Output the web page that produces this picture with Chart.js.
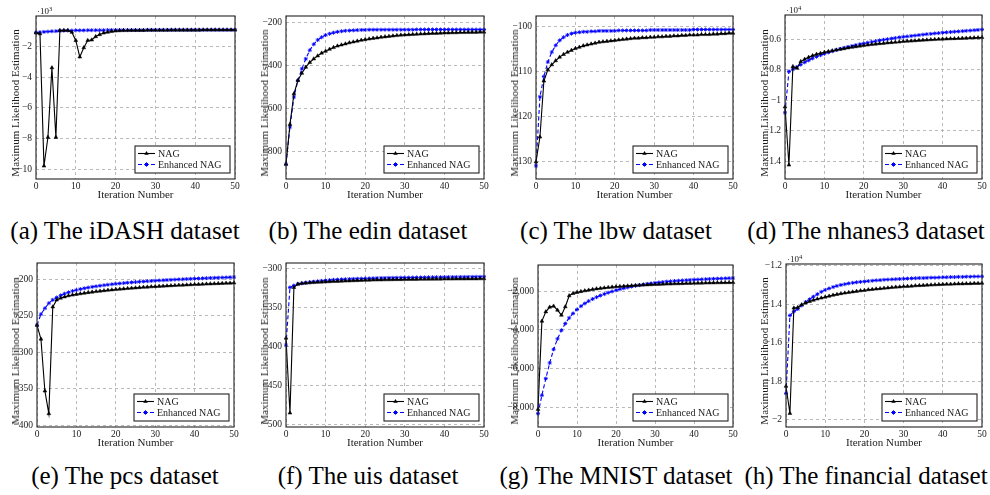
<!DOCTYPE html>
<html>
<head>
<meta charset="utf-8">
<script src="https://cdn.jsdelivr.net/npm/chart.js@4.4.1/dist/chart.umd.min.js"></script>
<style>
  body { margin: 0; background: #fff; }
  #fig { position: relative; width: 990px; height: 495px; overflow: hidden; font-family: 'Liberation Serif', serif; color: #1a1a1a; }
  canvas { position: absolute; }
  .ytitle { position: absolute; transform: translate(-50%, -50%) rotate(-90deg); white-space: nowrap; font-size: 11px; }
  .expo { position: absolute; font-size: 9px; line-height: 10px; }
  .expo sup { font-size: 6.5px; vertical-align: 3px; }
  .caption { position: absolute; width: 260px; text-align: center; font-size: 25px; line-height: 26px; color: #000; white-space: nowrap; }
</style>
</head>
<body>
<div id="fig"></div>
<script>
// iteration numbers (x axis)
const iterations = [0,1,2,3,4,5,6,7,8,9,10,11,12,13,14,15,16,17,18,19,20,21,22,23,24,25,
  26,27,28,29,30,31,32,33,34,35,36,37,38,39,40,41,42,43,44,45,46,47,48,49,50];
const xTicks = [0, 10, 20, 30, 40, 50];

// (a) iDASH, values in 10^3
const nagIdash = [-1.14, -1.2, -9.76, -7.9, -3.4, -7.9, -0.99, -0.98, -0.98, -1.1,
  -1.63, -2.7, -2.1, -1.63, -1.6, -1.38, -1.25, -1.15, -1.1, -1.05,
  -1.02, -1.0, -0.99, -0.99, -0.98, -0.98, -0.98, -0.98, -0.97, -0.97,
  -0.97, -0.97, -0.97, -0.97, -0.96, -0.96, -0.96, -0.96, -0.96, -0.96,
  -0.96, -0.96, -0.95, -0.95, -0.95, -0.95, -0.95, -0.95, -0.95, -0.95, -0.95];
const enhIdash = [-1.12, -1.1, -1.08, -1.06, -1.04, -1.03, -1.01, -1.0, -0.99, -0.99,
  -0.98, -0.98, -0.98, -0.97, -0.97, -0.97, -0.97, -0.97, -0.96, -0.96,
  -0.96, -0.96, -0.96, -0.96, -0.96, -0.96, -0.96, -0.96, -0.95, -0.95,
  -0.95, -0.95, -0.95, -0.95, -0.95, -0.95, -0.95, -0.95, -0.95, -0.95,
  -0.95, -0.95, -0.95, -0.95, -0.95, -0.95, -0.95, -0.95, -0.95, -0.95, -0.95];
const ticksIdash = [-10, -8, -6, -4, -2];

// (b) edin
const nagEdin = [-861, -675, -532, -470, -436, -408, -386, -369, -355, -342,
  -333, -324, -316, -309, -304, -299, -294, -290, -286, -282,
  -279, -276, -273, -271, -268, -266, -264, -262, -260, -258,
  -257, -256, -255, -254, -253, -252, -251, -250, -250, -249,
  -248, -248, -247, -247, -246, -246, -245, -245, -245, -244, -244];
const enhEdin = [-861, -687, -547, -470, -416, -369, -329, -301, -281, -268,
  -258, -252, -247, -243, -240, -238, -237, -236, -235, -234,
  -234, -233, -233, -233, -233, -233, -233, -233, -233, -233,
  -233, -233, -233, -232, -232, -232, -232, -232, -232, -232,
  -232, -232, -232, -232, -232, -232, -232, -232, -232, -232, -232];
const ticksEdin = [-800, -600, -400, -200];

// (c) lbw
const nagLbw = [-130, -124.5, -112.1, -109.6, -108.5, -107.6, -106.8, -106.2, -105.7, -105.3,
  -104.9, -104.6, -104.3, -104.1, -103.9, -103.7, -103.5, -103.4, -103.3, -103.2,
  -103.1, -103.0, -102.9, -102.8, -102.7, -102.6, -102.6, -102.5, -102.5, -102.4,
  -102.4, -102.3, -102.3, -102.2, -102.2, -102.1, -102.1, -102.0, -102.0, -101.9,
  -101.9, -101.9, -101.8, -101.8, -101.8, -101.7, -101.7, -101.6, -101.6, -101.5, -101.5];
const enhLbw = [-130.9, -115.6, -111.1, -107.9, -105.7, -104.2, -103.1, -102.4, -101.9, -101.6,
  -101.4, -101.3, -101.2, -101.2, -101.1, -101.1, -101.0, -101.0, -101.0, -101.0,
  -101.0, -100.9, -100.9, -100.9, -100.9, -100.9, -100.9, -100.9, -100.9, -100.8,
  -100.8, -100.8, -100.8, -100.8, -100.8, -100.8, -100.8, -100.8, -100.8, -100.8,
  -100.7, -100.7, -100.7, -100.7, -100.7, -100.7, -100.7, -100.7, -100.7, -100.7, -100.7];
const ticksLbw = [-130, -120, -110, -100];

// (d) nhanes3, values in 10^4
const nagNhanes = [-1.044, -1.426, -0.779, -0.789, -0.746, -0.731, -0.718, -0.707, -0.698, -0.692,
  -0.685, -0.68, -0.675, -0.67, -0.665, -0.661, -0.656, -0.652, -0.648, -0.644,
  -0.64, -0.637, -0.634, -0.631, -0.628, -0.626, -0.623, -0.621, -0.619, -0.617,
  -0.614, -0.612, -0.611, -0.609, -0.607, -0.605, -0.604, -0.602, -0.601, -0.599,
  -0.598, -0.597, -0.596, -0.595, -0.594, -0.593, -0.592, -0.591, -0.59, -0.589, -0.588];
const enhNhanes = [-1.083, -0.811, -0.797, -0.782, -0.766, -0.751, -0.738, -0.725, -0.714, -0.704,
  -0.695, -0.686, -0.678, -0.67, -0.663, -0.656, -0.65, -0.644, -0.638, -0.632,
  -0.627, -0.622, -0.617, -0.612, -0.607, -0.603, -0.599, -0.595, -0.591, -0.587,
  -0.584, -0.581, -0.578, -0.575, -0.572, -0.569, -0.566, -0.564, -0.561, -0.559,
  -0.556, -0.554, -0.552, -0.55, -0.548, -0.546, -0.544, -0.542, -0.54, -0.538, -0.536];
const ticksNhanes = [-1.4, -1.2, -1, -0.8, -0.6];

// (e) pcs
const nagPcs = [-263, -282, -353, -384, -238, -228.5, -226, -224.3, -222.8, -221.8,
  -220.8, -220, -219.2, -218.4, -217.7, -217, -216.4, -215.8, -215.2, -214.7,
  -214.2, -213.7, -213.3, -212.8, -212.4, -212, -211.6, -211.2, -210.9, -210.5,
  -210.2, -209.9, -209.6, -209.3, -209, -208.7, -208.4, -208.2, -207.9, -207.7,
  -207.4, -207.2, -207, -206.7, -206.5, -206.3, -206.1, -205.9, -205.7, -205.5, -205.3];
const enhPcs = [-263, -248, -240, -233, -228.4, -225.2, -222.3, -220, -218.1, -216.4,
  -215, -213.7, -212.6, -211.6, -210.7, -209.9, -209.1, -208.4, -207.7, -207.1,
  -206.5, -206, -205.5, -205, -204.5, -204.1, -203.7, -203.3, -202.9, -202.6,
  -202.2, -201.9, -201.6, -201.3, -201, -200.7, -200.4, -200.2, -199.9, -199.7,
  -199.4, -199.2, -199, -198.7, -198.5, -198.3, -198.1, -197.9, -197.7, -197.5, -197.3];
const ticksPcs = [-400, -350, -300, -250, -200];

// (f) uis
const nagUis = [-389, -485, -324, -319.7, -318.9, -318.4, -318, -317.7, -317.4, -317.1,
  -316.8, -316.6, -316.4, -316.2, -316, -315.8, -315.6, -315.4, -315.2, -315,
  -314.8, -314.7, -314.5, -314.4, -314.3, -314.2, -314.1, -314, -313.9, -313.9,
  -313.8, -313.7, -313.7, -313.6, -313.5, -313.5, -313.4, -313.4, -313.3, -313.3,
  -313.2, -313.2, -313.2, -313.1, -313.1, -313.1, -313, -313, -313, -312.9, -312.9];
const enhUis = [-398, -324, -321.5, -319.7, -318.7, -318, -317.3, -316.7, -316.1, -315.6,
  -315.1, -314.7, -314.3, -314, -313.7, -313.5, -313.3, -313.1, -312.9, -312.7,
  -312.5, -312.4, -312.3, -312.1, -312, -311.9, -311.8, -311.7, -311.6, -311.5,
  -311.5, -311.4, -311.3, -311.2, -311.2, -311.1, -311, -311, -310.9, -310.9,
  -310.8, -310.8, -310.7, -310.7, -310.6, -310.6, -310.5, -310.5, -310.4, -310.4, -310.3];
const ticksUis = [-500, -450, -400, -350, -300];

// (g) MNIST
const nagMnist = [-8086, -3548, -3067, -2826, -2774, -2980, -3238, -2808, -2241, -2120,
  -2069, -2025, -1985, -1950, -1915, -1885, -1860, -1835, -1815, -1795,
  -1778, -1762, -1748, -1735, -1722, -1710, -1699, -1689, -1679, -1670,
  -1661, -1653, -1645, -1638, -1631, -1625, -1619, -1613, -1607, -1602,
  -1597, -1592, -1588, -1584, -1580, -1576, -1572, -1568, -1565, -1561, -1558];
const enhMnist = [-8310, -7364, -6504, -5700, -5000, -4460, -4020, -3670, -3380, -3150,
  -2950, -2780, -2640, -2515, -2410, -2315, -2230, -2155, -2085, -2020,
  -1960, -1905, -1855, -1810, -1768, -1730, -1695, -1662, -1632, -1605,
  -1580, -1557, -1536, -1517, -1499, -1483, -1468, -1454, -1441, -1429,
  -1418, -1407, -1397, -1388, -1379, -1370, -1362, -1354, -1346, -1339, -1332];
const ticksMnist = [-8000, -6000, -4000, -2000];

// (h) financial, values in 10^4
const nagFin = [-1.826, -1.967, -1.419, -1.416, -1.402, -1.393, -1.385, -1.378, -1.372, -1.367,
  -1.362, -1.357, -1.352, -1.348, -1.344, -1.341, -1.338, -1.335, -1.332, -1.329,
  -1.327, -1.324, -1.322, -1.32, -1.318, -1.316, -1.314, -1.312, -1.31, -1.309,
  -1.307, -1.306, -1.305, -1.303, -1.302, -1.301, -1.3, -1.299, -1.298, -1.297,
  -1.296, -1.295, -1.295, -1.294, -1.293, -1.293, -1.292, -1.292, -1.291, -1.291, -1.29];
const enhFin = [-1.863, -1.458, -1.437, -1.424, -1.405, -1.388, -1.374, -1.36, -1.347, -1.335,
  -1.325, -1.317, -1.31, -1.304, -1.299, -1.295, -1.291, -1.288, -1.285, -1.283,
  -1.281, -1.279, -1.277, -1.275, -1.274, -1.272, -1.271, -1.27, -1.269, -1.268,
  -1.267, -1.266, -1.265, -1.264, -1.263, -1.263, -1.262, -1.261, -1.261, -1.26,
  -1.259, -1.259, -1.258, -1.258, -1.257, -1.257, -1.256, -1.256, -1.255, -1.255, -1.254];
const ticksFin = [-2, -1.8, -1.6, -1.4, -1.2];

const seriesNames = ['NAG', 'Enhanced NAG'];
const captions = ['(a) The iDASH dataset', '(b) The edin dataset', '(c) The lbw dataset', '(d) The nhanes3 dataset',
  '(e) The pcs dataset', '(f) The uis dataset', '(g) The MNIST dataset', '(h) The financial dataset'];

// box = [left, top, right, bottom] of the plot frame in page pixels
const panels = [
  { nag: nagIdash, enh: enhIdash, ticks: ticksIdash, min: -10.6, max: -0.05, exp: 3, box: [36, 16, 235, 179] },
  { nag: nagEdin, enh: enhEdin, ticks: ticksEdin, min: -930, max: -169, box: [286, 16, 484, 179] },
  { nag: nagLbw, enh: enhLbw, ticks: ticksLbw, min: -133.8, max: -97.7, box: [536, 16, 733, 179] },
  { nag: nagNhanes, enh: enhNhanes, ticks: ticksNhanes, min: -1.518, max: -0.44, exp: 4, box: [785, 15, 982, 179] },
  { nag: nagPcs, enh: enhPcs, ticks: ticksPcs, min: -402.3, max: -178, box: [37, 263, 234, 427] },
  { nag: nagUis, enh: enhUis, ticks: ticksUis, min: -503, max: -292.7, box: [286, 263, 484, 427] },
  { nag: nagMnist, enh: enhMnist, ticks: ticksMnist, min: -8997, max: -659, box: [538, 265, 733, 427] },
  { nag: nagFin, enh: enhFin, ticks: ticksFin, min: -2.038, max: -1.19, exp: 4, box: [786, 264, 982, 427] }
];

const FONT = "'Liberation Serif', serif";
const TXT = '#1a1a1a';
const YW = 36, PADT = 12, PADR = 8, XH = 23;

function fmt(v) {
  const s = Math.abs(v).toLocaleString('en-US', { maximumFractionDigits: 2 });
  return (v < 0 ? '\u2212' : '') + s;
}

function marker(ctx, style, x, y, color) {
  ctx.save();
  ctx.fillStyle = color; ctx.strokeStyle = color; ctx.lineWidth = 1;
  ctx.beginPath();
  if (style === 'triangle') {
    const r = 2.5;
    ctx.moveTo(x, y - r); ctx.lineTo(x + r * 0.87, y + r * 0.5); ctx.lineTo(x - r * 0.87, y + r * 0.5);
    ctx.closePath(); ctx.fill();
  } else {
    const r = 2.2;
    ctx.moveTo(x - r, y); ctx.lineTo(x + r, y);
    ctx.moveTo(x, y - r); ctx.lineTo(x, y + r);
    ctx.moveTo(x - r * 0.7, y - r * 0.7); ctx.lineTo(x + r * 0.7, y + r * 0.7);
    ctx.moveTo(x - r * 0.7, y + r * 0.7); ctx.lineTo(x + r * 0.7, y - r * 0.7);
    ctx.stroke();
  }
  ctx.restore();
}

// frame around plot area + legend box in the lower right corner
const frameAndLegend = {
  id: 'frameAndLegend',
  afterDatasetsDraw(chart) {
    const { ctx, chartArea: a } = chart;
    ctx.save();
    ctx.strokeStyle = '#222';
    ctx.lineWidth = 1.1;
    ctx.strokeRect(a.left, a.top, a.right - a.left, a.bottom - a.top);
    const w = 95, h = 27;
    const x0 = a.right - 5 - w, y0 = a.bottom - 6 - h;
    ctx.fillStyle = '#fff';
    ctx.fillRect(x0, y0, w, h);
    ctx.strokeRect(x0, y0, w, h);
    chart.data.datasets.forEach((ds, i) => {
      const y = y0 + 7.5 + i * 11;
      ctx.strokeStyle = ds.borderColor;
      ctx.lineWidth = ds.borderWidth;
      ctx.setLineDash(ds.borderDash || []);
      ctx.beginPath(); ctx.moveTo(x0 + 3, y); ctx.lineTo(x0 + 20, y); ctx.stroke();
      ctx.setLineDash([]);
      marker(ctx, ds.pointStyle, x0 + 11.5, y, ds.borderColor);
      ctx.fillStyle = TXT;
      ctx.font = '10px ' + FONT;
      ctx.textBaseline = 'middle';
      ctx.fillText(ds.label, x0 + 23, y + 0.5);
    });
    ctx.restore();
  }
};

const fig = document.getElementById('fig');

function build() {
  panels.forEach((p, k) => {
    const [L, T, R, B] = p.box;
    const cv = document.createElement('canvas');
    cv.width = (R - L) + YW + PADR;
    cv.height = (B - T) + PADT + XH;
    cv.style.left = (L - YW) + 'px';
    cv.style.top = (T - PADT) + 'px';
    fig.appendChild(cv);

    const gridOpts = { color: '#a8a8a8', lineWidth: 0.8, drawTicks: false };
    new Chart(cv, {
      type: 'line',
      data: {
        datasets: [
          {
            label: seriesNames[0],
            data: p.nag.map((v, i) => ({ x: iterations[i], y: v })),
            borderColor: '#000', borderWidth: 1.1,
            pointStyle: 'triangle', pointRadius: 2.2,
            pointBackgroundColor: '#000', pointBorderColor: '#000', pointBorderWidth: 0.5,
            clip: false
          },
          {
            label: seriesNames[1],
            data: p.enh.map((v, i) => ({ x: iterations[i], y: v })),
            borderColor: '#0000ff', borderWidth: 1.1, borderDash: [4, 2.5],
            pointStyle: 'star', pointRadius: 2,
            pointBackgroundColor: '#0000ff', pointBorderColor: '#0000ff', pointBorderWidth: 0.9,
            clip: false
          }
        ]
      },
      options: {
        responsive: false,
        animation: false,
        devicePixelRatio: 1,
        layout: { padding: { left: 0, top: PADT, right: PADR, bottom: 0 }, autoPadding: false },
        plugins: { legend: { display: false }, tooltip: { enabled: false } },
        scales: {
          x: {
            type: 'linear', min: 0, max: 50,
            afterBuildTicks: s => { s.ticks = xTicks.map(v => ({ value: v })); },
            afterFit: s => { s.height = XH; s.paddingLeft = 0; s.paddingRight = 0; },
            ticks: { font: { family: FONT, size: 9.5 }, color: TXT, padding: 2, maxRotation: 0 },
            grid: gridOpts,
            border: { display: false, dash: [3, 3] },
            title: { display: true, text: 'Iteration Number', font: { family: FONT, size: 11 }, color: TXT, padding: 0 }
          },
          y: {
            type: 'linear', min: p.min, max: p.max,
            afterBuildTicks: s => { s.ticks = p.ticks.map(v => ({ value: v })); },
            afterFit: s => { s.width = YW; s.paddingTop = 0; s.paddingBottom = 0; },
            ticks: { callback: v => fmt(v), font: { family: FONT, size: 9.5 }, color: TXT, padding: 4 },
            grid: gridOpts,
            border: { display: false, dash: [3, 3] }
          }
        }
      },
      plugins: [frameAndLegend]
    });

    // y axis title
    const yt = document.createElement('div');
    yt.className = 'ytitle';
    yt.textContent = 'Maximum Likelihood Estimation';
    yt.style.left = [15, 264, 514, 764][k % 4] + 'px';
    yt.style.top = (k < 4 ? 103 : 351) + 'px';
    fig.appendChild(yt);

    // scale exponent
    if (p.exp) {
      const ex = document.createElement('div');
      ex.className = 'expo';
      ex.innerHTML = '\u00b710<sup>' + p.exp + '</sup>';
      ex.style.left = (L + 1) + 'px';
      ex.style.top = (T - 12) + 'px';
      fig.appendChild(ex);
    }

    // caption
    const cap = document.createElement('div');
    cap.className = 'caption';
    cap.textContent = captions[k];
    cap.style.left = ([125, 368, 616, 866][k % 4] - 130) + 'px';
    cap.style.top = (k < 4 ? 218 : 463) + 'px';
    fig.appendChild(cap);
  });
}

// make sure the serif face is ready before the canvases draw text
document.fonts.load("10px 'Liberation Serif'").then(build, build);
</script>
</body>
</html>
